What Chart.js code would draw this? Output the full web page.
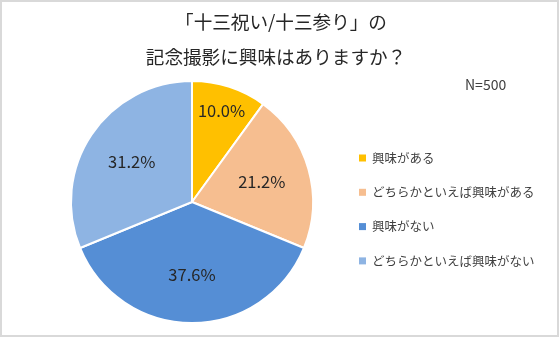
<!DOCTYPE html>
<html>
<head>
<meta charset="utf-8">
<script src="https://cdn.jsdelivr.net/npm/chart.js@4/dist/chart.umd.min.js"></script>
<style>
  html, body { margin: 0; padding: 0; background: #fff; }
  #wrap { width: 559px; height: 337px; position: relative; }
</style>
</head>
<body>
<div id="wrap"><canvas id="c" width="559" height="337"></canvas></div>
<script>
// Survey answers and their shares (%)
const categories = ['興味がある', 'どちらかといえば興味がある', '興味がない', 'どちらかといえば興味がない'];
const shares = [10.0, 21.2, 37.6, 31.2];
const sliceColors = ['#FFC000', '#F6BE90', '#558ED5', '#8EB4E3'];
const titleLines = ['「十三祝い/十三参り」の', '記念撮影に興味はありますか？'];
const sampleNote = 'N=500';

const JP_FONT = '"Noto Sans CJK JP", "Noto Sans", sans-serif';

// Frame, titles, percentage labels and the legend column
const decorations = {
  id: 'decorations',
  beforeDraw(chart) {
    const ctx = chart.ctx;
    ctx.save();
    ctx.fillStyle = '#fff';
    ctx.fillRect(0, 0, chart.width, chart.height);
    ctx.strokeStyle = '#d9d9d9';
    ctx.lineWidth = 2;
    ctx.strokeRect(1, 1, chart.width - 2, chart.height - 2);
    ctx.restore();
  },
  afterDatasetsDraw(chart) {
    const ctx = chart.ctx;
    const meta = chart.getDatasetMeta(0);
    const total = shares.reduce((a, b) => a + b, 0);
    ctx.save();

    // title
    ctx.fillStyle = '#262626';
    ctx.font = '18.6px ' + JP_FONT;
    ctx.textAlign = 'center';
    ctx.textBaseline = 'middle';
    ctx.fillText(titleLines[0], 281, 22);
    ctx.fillText(titleLines[1], 276, 57);

    // sample size
    ctx.fillStyle = '#404040';
    ctx.font = '14px ' + JP_FONT;
    ctx.textAlign = 'left';
    ctx.fillText(sampleNote, 465, 85);

    // percentage labels inside the slices
    ctx.fillStyle = '#262626';
    ctx.font = '16.5px ' + JP_FONT;
    ctx.textAlign = 'center';
    meta.data.forEach((arc, i) => {
      const p = arc.getProps(['x', 'y', 'startAngle', 'endAngle', 'outerRadius'], true);
      const mid = (p.startAngle + p.endAngle) / 2;
      const f = shares[i] / total < 0.15 ? 0.79 : 0.6;
      const r = p.outerRadius * f;
      ctx.fillText(shares[i].toFixed(1) + '%', p.x + Math.cos(mid) * r, p.y + Math.sin(mid) * r);
    });

    // legend
    ctx.font = '12.5px ' + JP_FONT;
    ctx.textAlign = 'left';
    categories.forEach((name, i) => {
      const y = 158 + i * 34.3;
      ctx.fillStyle = sliceColors[i];
      ctx.fillRect(359, y - 3.5, 7, 7);
      ctx.fillStyle = '#404040';
      ctx.fillText(name, 372, y);
    });
    ctx.restore();
  }
};

new Chart(document.getElementById('c'), {
  type: 'pie',
  data: {
    labels: categories,
    datasets: [{
      data: shares,
      backgroundColor: sliceColors,
      borderColor: '#ffffff',
      borderWidth: 2
    }]
  },
  options: {
    responsive: false,
    animation: false,
    events: [],
    layout: { padding: { left: 70, right: 245, top: 80, bottom: 13 } },
    plugins: {
      legend: { display: false },
      tooltip: { enabled: false },
      title: { display: false }
    }
  },
  plugins: [decorations]
});
</script>
</body>
</html>
